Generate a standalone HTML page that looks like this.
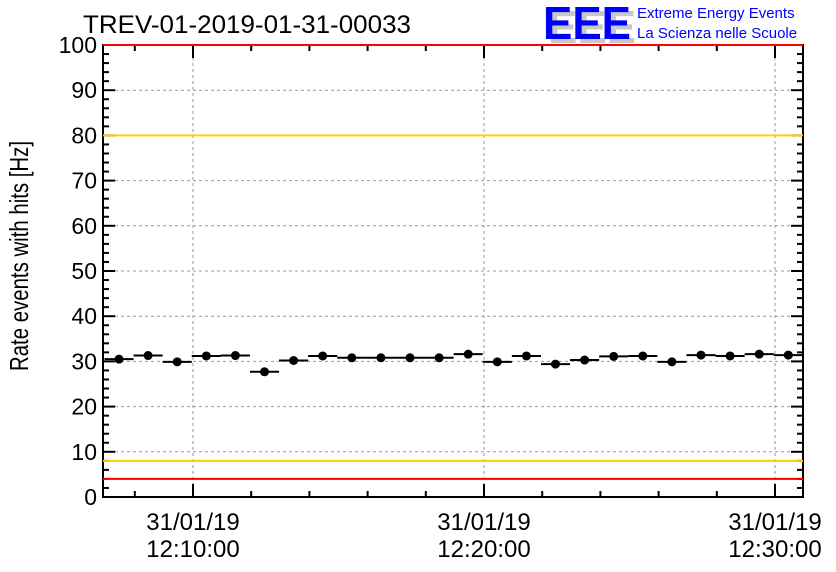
<!DOCTYPE html>
<html><head><meta charset="utf-8"><style>
body{margin:0;background:#fff;}
svg{display:block;font-family:"Liberation Sans",sans-serif;}
</style></head><body>
<svg id="c" width="836" height="572">
<rect width="836" height="572" fill="#fff"/>
<text x="83" y="33" font-size="25" fill="#000" textLength="328" lengthAdjust="spacingAndGlyphs">TREV-01-2019-01-31-00033</text>
<g>
<text x="548" y="43" font-size="46" font-weight="bold" fill="#c8c8c8" textLength="88" lengthAdjust="spacingAndGlyphs">EEE</text>
<text x="543" y="39" font-size="46" font-weight="bold" fill="#0000ff" textLength="88" lengthAdjust="spacingAndGlyphs">EEE</text>
<text x="637" y="18" font-size="15" fill="#0000ff">Extreme Energy Events</text>
<text x="637" y="38" font-size="15" fill="#0000ff">La Scienza nelle Scuole</text>
</g>
<text transform="translate(28,256) rotate(-90)" text-anchor="middle" font-size="26" textLength="230" lengthAdjust="spacingAndGlyphs">Rate events with hits [Hz]</text>
<g id="grid"></g><g id="axes"></g><g id="refs"></g><g id="marks"></g>
</svg>
<script>
const values=[30.5,31.3,29.9,31.2,31.3,27.7,30.2,31.2,30.8,30.8,30.8,30.8,31.6,29.9,31.2,29.4,30.3,31.1,31.2,29.9,31.4,31.2,31.6,31.4];
const yTicks=[0,10,20,30,40,50,60,70,80,90,100];
const xMajorMinutes=[10,20,30];
const xDateLabels=["31/01/19","31/01/19","31/01/19"];
const xTimeLabels=["12:10:00","12:20:00","12:30:00"];
const refRed=[100,4];
const refOrange=[80,8];
const X0=103,X1=803,Y0=497,Y1=45;
const pxPerMin=29.1, minAt0=6.907;
const binMin=1.0;
function xs(m){return X0+(m-minAt0)*pxPerMin;}
function ys(v){return Y0-(v/100)*(Y0-Y1);}
const NS="http://www.w3.org/2000/svg";
function mk(p,t,a){const e=document.createElementNS(NS,t);for(const k in a)e.setAttribute(k,a[k]);document.getElementById(p).appendChild(e);return e;}
yTicks.forEach(v=>{if(v>0&&v<100){const l=mk('grid','line',{x1:X0,x2:X1,y1:ys(v),y2:ys(v),stroke:'#999','stroke-dasharray':'3,3'});

}});
xMajorMinutes.forEach(m=>{const l=mk('grid','line',{x1:xs(m),x2:xs(m),y1:Y1,y2:Y0,stroke:'#999','stroke-dasharray':'3,3'});

});
const fr=mk('axes','rect',{x:X0,y:Y1,width:X1-X0,height:Y0-Y1,fill:'none',stroke:'#000','stroke-width':2});


for(let v=0;v<=100;v+=2){const L=v%10==0?12:6;
mk('axes','line',{x1:X0,x2:X0+L,y1:ys(v),y2:ys(v),stroke:'#000','stroke-width':2});
mk('axes','line',{x1:X1,x2:X1-L,y1:ys(v),y2:ys(v),stroke:'#000','stroke-width':2});}
yTicks.forEach(v=>{const t=mk('axes','text',{x:X0-6,y:ys(v)+8,'text-anchor':'end','font-size':23});t.textContent=v;

});
for(let m=8;m<=30;m+=2){const L=m%10==0?13:6;
mk('axes','line',{x1:xs(m),x2:xs(m),y1:Y0,y2:Y0-L,stroke:'#000','stroke-width':2});
mk('axes','line',{x1:xs(m),x2:xs(m),y1:Y1,y2:Y1+L,stroke:'#000','stroke-width':2});}
xMajorMinutes.forEach((m,i)=>{
const a=mk('axes','text',{x:xs(m),y:530,'text-anchor':'middle','font-size':24});a.textContent=xDateLabels[i];


const b=mk('axes','text',{x:xs(m),y:557,'text-anchor':'middle','font-size':24});b.textContent=xTimeLabels[i];

});
refOrange.forEach(v=>{const l=mk('refs','line',{x1:X0,x2:X1,y1:ys(v),y2:ys(v),stroke:'#ffcc00','stroke-width':2});

});
refRed.forEach(v=>{const l=mk('refs','line',{x1:X0,x2:X1,y1:ys(v),y2:ys(v),stroke:'#ff0000','stroke-width':2});

});
values.forEach((v,i)=>{const c=minAt0+0.55+i*binMin;const y=ys(v);
const l=mk('marks','line',{x1:xs(c-binMin/2),x2:xs(c+binMin/2),y1:y,y2:y,stroke:'#000','stroke-width':2});


const p=mk('marks','circle',{cx:xs(c),cy:y,r:4.5,fill:'#000'});

});
</script>
</body></html>
